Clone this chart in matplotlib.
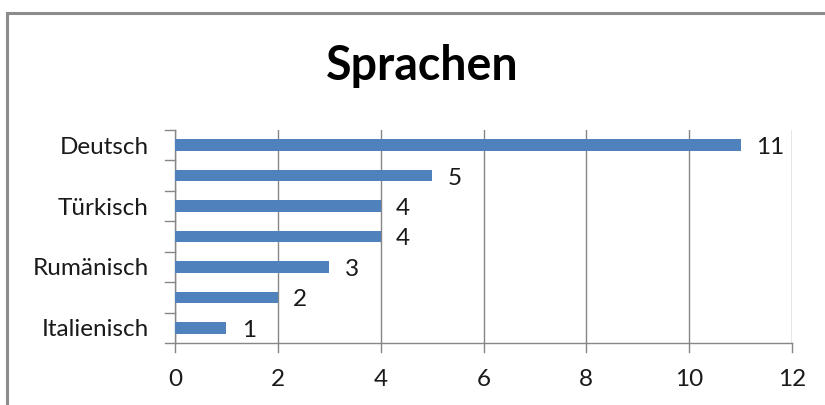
import matplotlib
matplotlib.use("Agg")
import matplotlib.pyplot as plt
from matplotlib.lines import Line2D

categories = ["Deutsch", "", "Türkisch", "", "Rumänisch", "", "Italienisch"]
values = [11, 5, 4, 4, 3, 2, 1]
xticks = [0, 2, 4, 6, 8, 10, 12]

plt.rcParams['font.family'] = ['Lato', 'DejaVu Sans']

W, H = 825, 405
fig = plt.figure(figsize=(W / 100, H / 100), dpi=100)
fig.patch.set_facecolor('white')

# outer chart frame (only top and left edges visible)
fy = 1 - 12.5 / H
fx = 7 / W
fig.add_artist(Line2D([fx, fx, 1.0], [0.0, fy, fy], transform=fig.transFigure,
                      color='#8c8c8c', linewidth=2.2, solid_joinstyle='miter'))

ax = fig.add_axes([175 / W, 1 - 343 / H, (792 - 175) / W, (343 - 130) / H])
n = len(categories)
ypos = list(range(n))[::-1]
ax.barh(ypos, values, height=0.38, color='#4F81BD', zorder=3)
for y, v in zip(ypos, values):
    ax.text(v + 0.3, y - 0.08, str(v), va='center', ha='left', fontsize=17.5, color='#1a1a1a')

ax.set_xlim(0, 12)
ax.set_ylim(-0.5, n - 0.5)
ax.set_xticks(xticks)
ax.set_xticklabels([str(t) for t in xticks], fontsize=17.5, color='#1a1a1a')
ax.set_yticks(ypos)
ax.set_yticklabels(categories, fontsize=17.5, color='#1a1a1a')
ax.tick_params(axis='y', length=0, pad=19)
ax.tick_params(axis='x', length=0, pad=19)

# category boundary tick marks on y axis
for b in [i - 0.5 for i in range(n + 1)]:
    ax.plot([-0.2, 0], [b, b], color='#868686', lw=1, clip_on=False, zorder=4)
# major tick marks on x axis
for t in xticks:
    ax.plot([t, t], [-0.5, -0.8], color='#868686', lw=1, clip_on=False, zorder=4)

ax.grid(axis='x', color='#868686', lw=1, zorder=0)
for s in ['top', 'right']:
    ax.spines[s].set_visible(False)
for s in ['left', 'bottom']:
    ax.spines[s].set_color('#868686')
    ax.spines[s].set_linewidth(1)

fig.text(422 / W, 1 - 66 / H, 'Sprachen', ha='center', va='center', fontsize=33.5,
         fontweight='bold', color='black')

fig.savefig('out.png', dpi=100)
